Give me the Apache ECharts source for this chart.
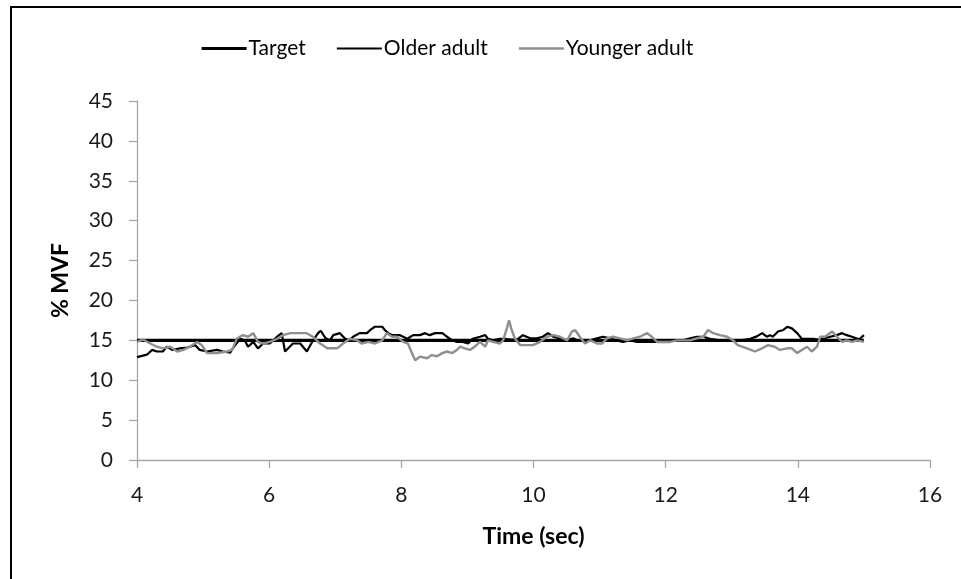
<!DOCTYPE html>
<html>
<head>
<meta charset="utf-8">
<script src="https://cdn.jsdelivr.net/npm/echarts@6/dist/echarts.min.js"></script>
<style>
html,body{margin:0;padding:0;background:#fff;}
#chart{width:961px;height:579px;}
</style>
</head>
<body>
<div id="chart"></div>
<script>
// Data (time in seconds, value in % MVF)
const seriesNames = ['Target', 'Older adult', 'Younger adult'];
const xTicks = [4, 6, 8, 10, 12, 14, 16];
const yTicks = [0, 5, 10, 15, 20, 25, 30, 35, 40, 45];

const target = [[4.00, 15], [15.00, 15]];

const olderAdult = [
[4.00,12.9],[4.15,13.2],[4.23,13.8],[4.30,13.6],[4.39,13.6],[4.45,14.2],[4.54,13.8],[4.65,14.0],
[4.76,14.1],[4.88,14.4],[4.95,13.8],[5.06,13.6],[5.21,13.8],[5.30,13.6],[5.41,13.45],[5.45,14.0],
[5.56,15.2],[5.63,15.0],[5.68,14.2],[5.76,14.8],[5.83,14.0],[5.91,14.6],[6.01,14.6],[6.12,15.45],
[6.19,15.9],[6.24,13.6],[6.36,14.6],[6.47,14.6],[6.57,13.6],[6.65,14.8],[6.74,15.9],[6.78,16.2],
[6.85,15.3],[6.92,15.0],[6.97,15.65],[7.07,15.9],[7.15,15.2],[7.22,15.0],[7.27,15.45],[7.37,15.9],
[7.48,15.9],[7.53,16.3],[7.60,16.7],[7.71,16.7],[7.75,16.3],[7.80,15.9],[7.87,15.65],[7.98,15.65],
[8.09,15.2],[8.18,15.65],[8.28,15.65],[8.36,15.9],[8.43,15.65],[8.51,15.9],[8.62,15.9],[8.69,15.45],
[8.77,15.0],[8.84,14.8],[8.93,14.8],[9.01,14.6],[9.08,15.2],[9.19,15.45],[9.27,15.65],[9.31,15.2],
[9.39,15.0],[9.49,15.2],[9.57,15.2],[9.64,15.1],[9.75,15.1],[9.84,15.65],[9.95,15.25],[10.05,15.25],
[10.14,15.45],[10.22,15.9],[10.30,15.45],[10.40,15.25],[10.51,15.0],[10.60,15.25],[10.66,15.0],[10.75,15.0],
[10.86,15.0],[10.96,15.25],[11.05,15.45],[11.16,15.25],[11.26,15.0],[11.35,14.8],[11.46,15.0],[11.57,14.8],
[11.66,14.8],[11.76,14.8],[11.87,14.8],[11.96,14.8],[12.07,15.0],[12.17,15.0],[12.26,15.0],[12.37,15.25],
[12.47,15.45],[12.57,15.45],[12.67,15.2],[12.82,15.0],[12.97,15.0],[13.13,15.0],[13.28,15.2],[13.38,15.5],
[13.46,15.9],[13.53,15.45],[13.58,15.65],[13.62,15.45],[13.70,16.1],[13.78,16.3],[13.84,16.7],[13.91,16.5],
[13.99,15.9],[14.06,15.2],[14.14,15.2],[14.23,15.2],[14.31,15.1],[14.38,15.2],[14.49,15.45],[14.59,15.65],
[14.67,15.9],[14.74,15.65],[14.82,15.45],[14.90,15.2],[14.94,15.2],[15.00,15.65]
];

const youngerAdult = [
[4.00,14.8],[4.09,15.1],[4.20,14.6],[4.30,14.2],[4.39,14.0],[4.50,14.2],[4.61,13.6],[4.70,13.8],
[4.80,14.2],[4.91,14.8],[4.98,14.4],[5.06,13.4],[5.21,13.4],[5.36,13.6],[5.44,13.8],[5.51,15.2],
[5.60,15.65],[5.68,15.45],[5.76,15.9],[5.83,14.8],[5.91,14.6],[6.01,14.8],[6.12,15.2],[6.21,15.65],
[6.32,15.9],[6.42,15.9],[6.57,15.9],[6.66,15.45],[6.77,14.6],[6.88,14.0],[7.03,14.0],[7.12,14.6],
[7.22,15.2],[7.33,15.0],[7.40,14.6],[7.50,14.8],[7.60,14.6],[7.71,15.0],[7.78,15.9],[7.86,15.45],
[7.93,15.45],[8.03,14.8],[8.10,14.6],[8.16,13.4],[8.21,12.5],[8.28,12.95],[8.39,12.75],[8.46,13.15],
[8.54,13.0],[8.62,13.4],[8.69,13.6],[8.77,13.4],[8.84,13.8],[8.89,14.2],[8.96,14.0],[9.04,13.8],
[9.11,14.2],[9.19,14.8],[9.27,14.2],[9.31,15.0],[9.39,14.8],[9.49,14.6],[9.54,15.0],[9.60,16.6],
[9.63,17.5],[9.67,16.3],[9.72,15.2],[9.80,14.4],[9.90,14.4],[9.99,14.4],[10.10,14.8],[10.20,15.45],
[10.30,15.65],[10.40,15.45],[10.51,15.0],[10.58,16.1],[10.63,16.3],[10.70,15.45],[10.78,14.6],[10.86,15.0],
[10.96,14.6],[11.04,14.6],[11.11,15.25],[11.20,15.45],[11.31,15.25],[11.42,15.0],[11.51,15.25],[11.61,15.45],
[11.72,15.9],[11.79,15.45],[11.87,14.8],[11.96,14.8],[12.07,14.8],[12.17,15.0],[12.26,15.0],[12.37,15.0],
[12.47,15.25],[12.57,15.45],[12.64,16.3],[12.72,15.9],[12.82,15.65],[12.93,15.45],[13.02,15.0],[13.09,14.4],
[13.23,14.0],[13.35,13.6],[13.46,14.0],[13.55,14.4],[13.65,14.2],[13.73,13.8],[13.84,14.0],[13.91,14.0],
[13.99,13.4],[14.06,13.8],[14.14,14.2],[14.21,13.6],[14.29,14.2],[14.34,15.45],[14.41,15.45],[14.52,16.1],
[14.59,15.45],[14.67,14.8],[14.74,15.0],[14.82,14.8],[14.90,15.0],[15.00,14.8]
];

const lineWidths = [3.2, 2.2, 2.4];
const lineColors = ['#000000', '#000000', '#8f8f8f'];

const chart = echarts.init(document.getElementById('chart'), null, {renderer: 'canvas'});
const FONT = 'Lato, "Liberation Sans", sans-serif';
const axisGray = '#a6a6a6';

chart.setOption({
  animation: false,
  backgroundColor: '#ffffff',
  graphic: [{
    type: 'rect',
    shape: {x: 11, y: 7, width: 1200, height: 1200},
    style: {fill: 'none', stroke: '#000', lineWidth: 2},
    silent: true
  }],
  legend: {
    data: seriesNames.map((n, i) => ({
      name: n,
      lineStyle: {width: lineWidths[i], color: lineColors[i]}
    })),
    left: 200,
    top: 38,
    padding: 0,
    itemWidth: 45,
    itemHeight: 14,
    itemGap: 30,
    itemStyle: {opacity: 0, borderWidth: 0},
    textStyle: {fontFamily: FONT, fontSize: 21, color: '#000', padding: [0, 0, 0, -3]}
  },
  grid: {left: 137, right: 31, top: 101, bottom: 119, containLabel: false},
  xAxis: {
    type: 'value',
    min: xTicks[0],
    max: xTicks[xTicks.length - 1],
    interval: 2,
    name: 'Time (sec)',
    nameLocation: 'middle',
    nameGap: 65,
    nameTextStyle: {fontFamily: FONT, fontSize: 23, fontWeight: 'bold', color: '#000'},
    axisLine: {show: true, lineStyle: {color: axisGray, width: 1.3}},
    axisTick: {show: true, length: 8, lineStyle: {color: axisGray, width: 1.3}},
    axisLabel: {fontFamily: FONT, fontSize: 21, color: '#1a1a1a', margin: 25},
    splitLine: {show: false}
  },
  yAxis: {
    type: 'value',
    min: yTicks[0],
    max: yTicks[yTicks.length - 1],
    interval: 5,
    name: '% MVF',
    nameLocation: 'middle',
    nameGap: 65,
    nameRotate: 90,
    nameTextStyle: {fontFamily: FONT, fontSize: 23, fontWeight: 'bold', color: '#000'},
    axisLine: {show: true, lineStyle: {color: axisGray, width: 1.3}},
    axisTick: {show: true, length: 8, lineStyle: {color: axisGray, width: 1.3}},
    axisLabel: {fontFamily: FONT, fontSize: 21, color: '#1a1a1a', margin: 24},
    splitLine: {show: false}
  },
  series: [
    {
      name: seriesNames[0], type: 'line', data: target, symbol: 'none',
      lineStyle: {color: lineColors[0], width: lineWidths[0]}, itemStyle: {color: lineColors[0]}
    },
    {
      name: seriesNames[1], type: 'line', data: olderAdult, symbol: 'none',
      lineStyle: {color: lineColors[1], width: lineWidths[1]}, itemStyle: {color: lineColors[1]}
    },
    {
      name: seriesNames[2], type: 'line', data: youngerAdult, symbol: 'none',
      lineStyle: {color: lineColors[2], width: lineWidths[2]}, itemStyle: {color: lineColors[2]}
    }
  ]
});
</script>
</body>
</html>
